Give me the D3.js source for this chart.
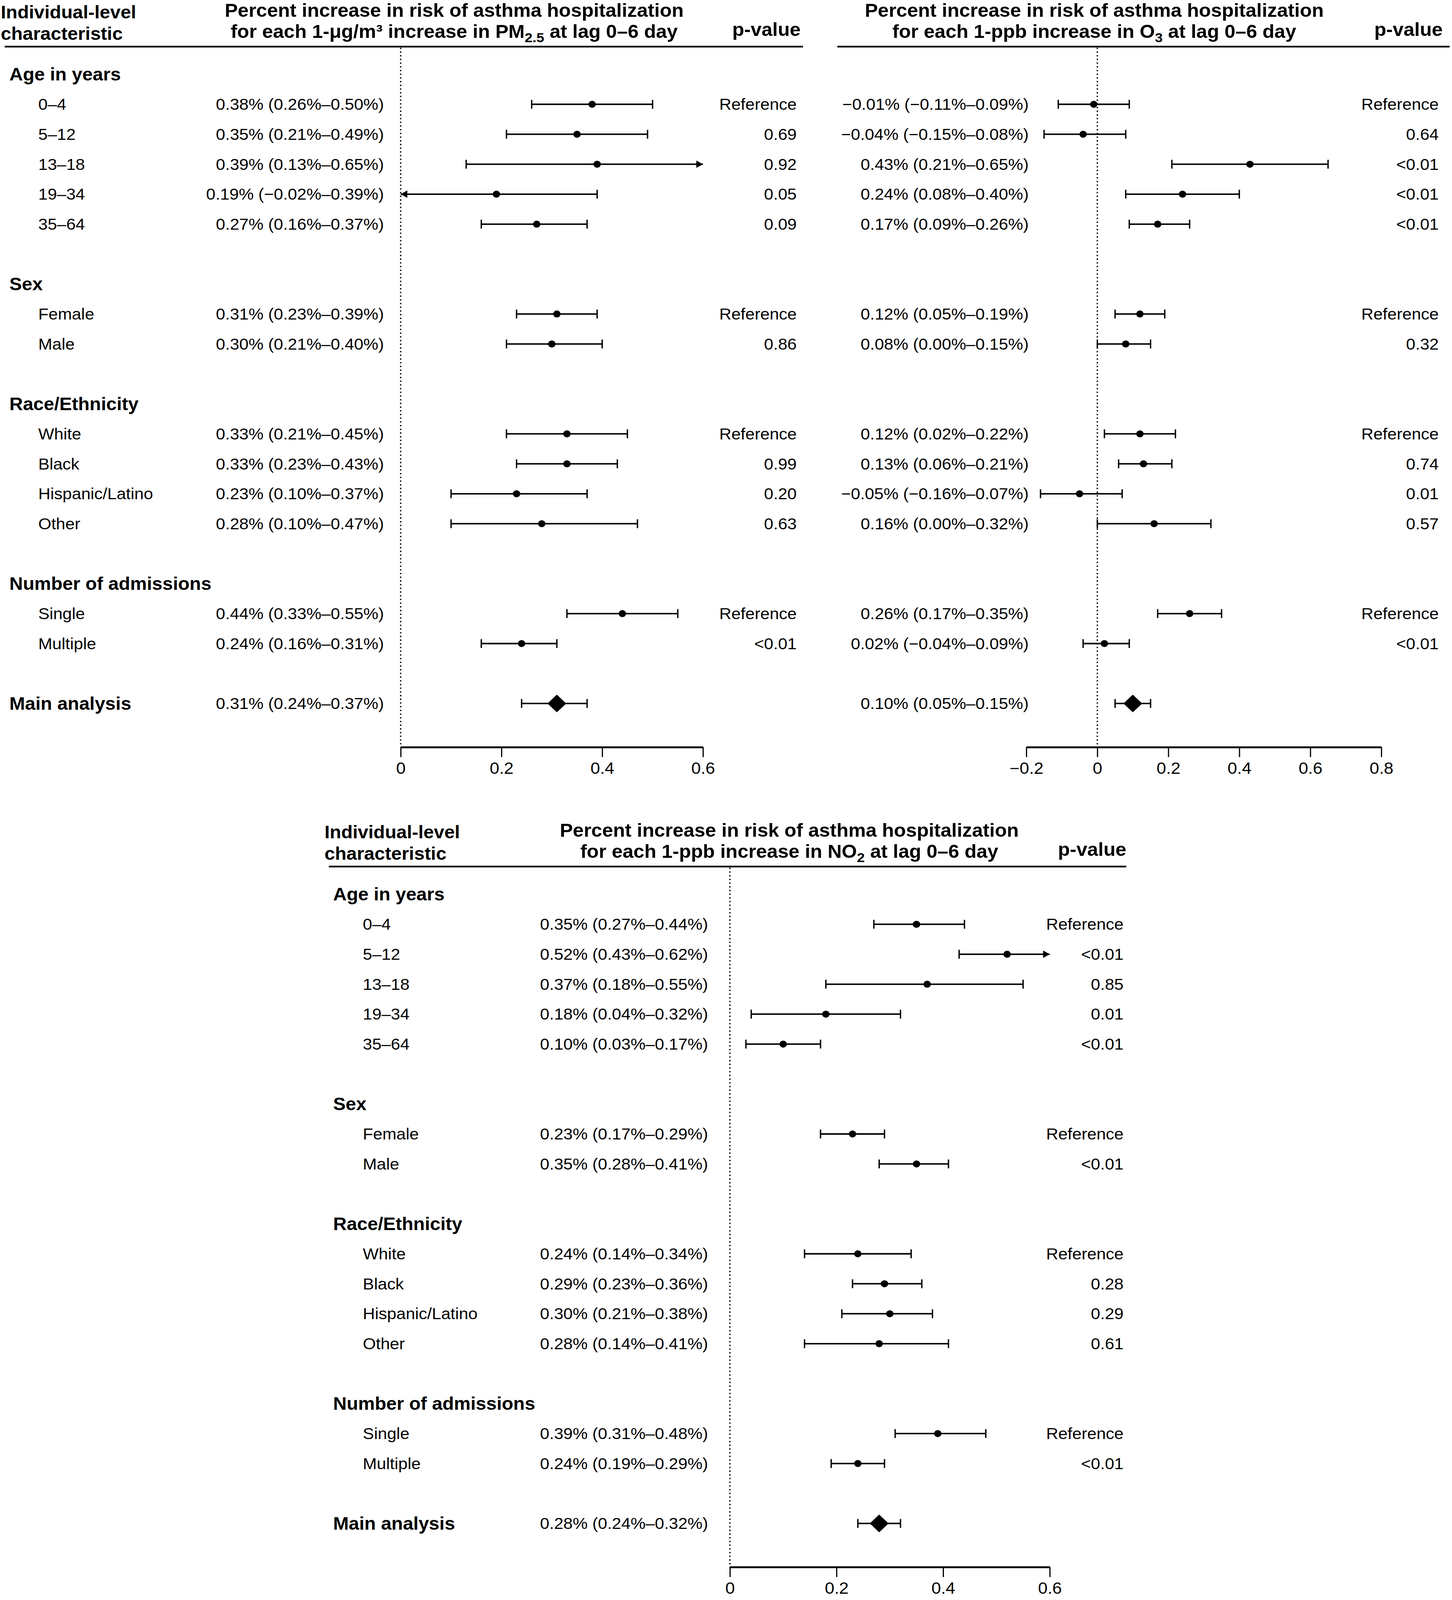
<!DOCTYPE html>
<html>
<head>
<meta charset="utf-8">
<script src="https://cdn.jsdelivr.net/npm/d3@7"></script>
<style>
  html, body { margin: 0; padding: 0; background: #fff; overflow: hidden; }
  svg { display: block; }
  text { font-family: "Liberation Sans", Arial, Helvetica, sans-serif; fill: #000; }
</style>
</head>
<body>
<div class="chart"></div>
<script>
// drawing space is the reference size; it is fitted to the window below
var svgWidth = 3718;
var svgHeight = 4326;

// groups and subgroups (same rows in all three panels)
var groups = ["Age in years", "Sex", "Race/Ethnicity", "Number of admissions"];
var groupItems = [
  ["0–4", "5–12", "13–18", "19–34", "35–64"],
  ["Female", "Male"],
  ["White", "Black", "Hispanic/Latino", "Other"],
  ["Single", "Multiple"]
];
var mainLabel = "Main analysis";

// PM2.5 (last value = main analysis)
var pmEst = [0.38, 0.35, 0.39, 0.19, 0.27, 0.31, 0.30, 0.33, 0.33, 0.23, 0.28, 0.44, 0.24, 0.31];
var pmLo  = [0.26, 0.21, 0.13, -0.02, 0.16, 0.23, 0.21, 0.21, 0.23, 0.10, 0.10, 0.33, 0.16, 0.24];
var pmHi  = [0.50, 0.49, 0.65, 0.39, 0.37, 0.39, 0.40, 0.45, 0.43, 0.37, 0.47, 0.55, 0.31, 0.37];
var pmP   = ["Reference", "0.69", "0.92", "0.05", "0.09", "Reference", "0.86", "Reference", "0.99", "0.20", "0.63", "Reference", "<0.01", ""];

// O3
var o3Est = [-0.01, -0.04, 0.43, 0.24, 0.17, 0.12, 0.08, 0.12, 0.13, -0.05, 0.16, 0.26, 0.02, 0.10];
var o3Lo  = [-0.11, -0.15, 0.21, 0.08, 0.09, 0.05, 0.00, 0.02, 0.06, -0.16, 0.00, 0.17, -0.04, 0.05];
var o3Hi  = [0.09, 0.08, 0.65, 0.40, 0.26, 0.19, 0.15, 0.22, 0.21, 0.07, 0.32, 0.35, 0.09, 0.15];
var o3P   = ["Reference", "0.64", "<0.01", "<0.01", "<0.01", "Reference", "0.32", "Reference", "0.74", "0.01", "0.57", "Reference", "<0.01", ""];

// NO2
var no2Est = [0.35, 0.52, 0.37, 0.18, 0.10, 0.23, 0.35, 0.24, 0.29, 0.30, 0.28, 0.39, 0.24, 0.28];
var no2Lo  = [0.27, 0.43, 0.18, 0.04, 0.03, 0.17, 0.28, 0.14, 0.23, 0.21, 0.14, 0.31, 0.19, 0.24];
var no2Hi  = [0.44, 0.62, 0.55, 0.32, 0.17, 0.29, 0.41, 0.34, 0.36, 0.38, 0.41, 0.48, 0.29, 0.32];
var no2P   = ["Reference", "<0.01", "0.85", "0.01", "<0.01", "Reference", "<0.01", "Reference", "0.28", "0.29", "0.61", "Reference", "<0.01", ""];

var tickTop1 = [0, 0.2, 0.4, 0.6];
var tickTop2 = [-0.2, 0, 0.2, 0.4, 0.6, 0.8];
var tickBot = [0, 0.2, 0.4, 0.6];

// the visible window can be shorter than asked for, so fit the whole figure into it
var winW = window.innerWidth || svgWidth;
var winH = window.innerHeight || svgHeight;

var svg = d3.select(".chart")
  .append("svg")
  .attr("width", winW)
  .attr("height", winH)
  .attr("viewBox", "0 0 " + svgWidth + " " + svgHeight)
  .attr("preserveAspectRatio", "none");

svg.append("rect").attr("width", svgWidth).attr("height", svgHeight).attr("fill", "#fff");

// build row list: heading, items, blank ... then main
var rows = [];
var k = 0;
groups.forEach(function(g, gi) {
  rows.push({type: "head", label: g});
  groupItems[gi].forEach(function(it) {
    rows.push({type: "item", label: it, i: k});
    k++;
  });
  rows.push({type: "blank"});
});
rows.push({type: "main", label: mainLabel, i: k});

var fmt = d3.format(".2f");
function ciText(e, l, h) {
  return fmt(e) + "% (" + fmt(l) + "%–" + fmt(h) + "%)";
}

function drawPanel(o) {
  var g = svg.append("g");
  var y = d3.scaleLinear().domain([0, rows.length - 1]).range([o.yTop, o.yMain]);
  var x = o.x;
  var dom = x.domain();

  // header line
  g.append("line")
    .attr("x1", o.lineX[0]).attr("x2", o.lineX[1])
    .attr("y1", o.headerY).attr("y2", o.headerY)
    .attr("stroke", "#000").attr("stroke-width", 4.5);

  // title
  g.append("text").attr("x", o.titleX).attr("y", o.headerY - 81)
    .attr("text-anchor", "middle").attr("font-size", 50).attr("font-weight", "bold")
    .text("Percent increase in risk of asthma hospitalization");
  var t2 = g.append("text").attr("x", o.titleX).attr("y", o.headerY - 24)
    .attr("text-anchor", "middle").attr("font-size", 50).attr("font-weight", "bold");
  t2.append("tspan").text(o.title2[0]);
  t2.append("tspan").attr("font-size", 36).attr("dy", 12).text(o.title2[1]);
  t2.append("tspan").attr("dy", -12).text(o.title2[2]);

  g.append("text").attr("x", o.pHeadX).attr("y", o.headerY - 29)
    .attr("text-anchor", "end").attr("font-size", 50).attr("font-weight", "bold")
    .text("p-value");

  if (o.labels) {
    g.append("text").attr("x", o.colHeadX).attr("y", o.headerY - 76)
      .attr("font-size", 48).attr("font-weight", "bold").text("Individual-level");
    g.append("text").attr("x", o.colHeadX).attr("y", o.headerY - 18)
      .attr("font-size", 48).attr("font-weight", "bold").text("characteristic");
  }

  // dotted zero line
  g.append("line")
    .attr("x1", x(0)).attr("x2", x(0))
    .attr("y1", o.headerY + 3).attr("y2", o.axisY)
    .attr("stroke", "#000").attr("stroke-width", 3.5)
    .attr("stroke-dasharray", "3.5,6.5");

  rows.forEach(function(r, ri) {
    var yy = y(ri);
    if (r.type === "blank") return;
    if (o.labels && r.type !== "item") {
      g.append("text").attr("x", o.headX).attr("y", yy).attr("dy", "0.35em")
        .attr("font-size", 48).attr("font-weight", "bold").text(r.label);
    }
    if (o.labels && r.type === "item") {
      g.append("text").attr("x", o.subX).attr("y", yy).attr("dy", "0.35em")
        .attr("font-size", 43).text(r.label);
    }
    if (r.type === "head") return;

    var e = o.est[r.i], lo = o.lo[r.i], hi = o.hi[r.i];
    g.append("text").attr("x", o.textEnd).attr("y", yy).attr("dy", "0.35em")
      .attr("text-anchor", "end").attr("font-size", 43).text(ciText(e, lo, hi));
    if (o.p[r.i]) {
      g.append("text").attr("x", o.pEnd).attr("y", yy).attr("dy", "0.35em")
        .attr("text-anchor", "end").attr("font-size", 43).text(o.p[r.i]);
    }

    var x1 = x(Math.max(lo, dom[0])), x2 = x(Math.min(hi, dom[1]));
    g.append("line").attr("x1", x1).attr("x2", x2).attr("y1", yy).attr("y2", yy)
      .attr("stroke", "#000").attr("stroke-width", 4);
    // left end: cap, or arrow when the interval runs off the axis
    if (lo < dom[0]) {
      g.append("path").attr("d", "M" + x1 + "," + yy + "l17,-10l0,20z").attr("fill", "#000");
    } else {
      g.append("line").attr("x1", x1).attr("x2", x1).attr("y1", yy - 12).attr("y2", yy + 12)
        .attr("stroke", "#000").attr("stroke-width", 3.5);
    }
    // right end
    if (hi > dom[1]) {
      g.append("path").attr("d", "M" + x2 + "," + yy + "l-17,-10l0,20z").attr("fill", "#000");
    } else {
      g.append("line").attr("x1", x2).attr("x2", x2).attr("y1", yy - 12).attr("y2", yy + 12)
        .attr("stroke", "#000").attr("stroke-width", 3.5);
    }
    if (r.type === "main") {
      var cx = x(e);
      g.append("path")
        .attr("d", "M" + (cx - 24) + "," + yy + "L" + cx + "," + (yy - 24) + "L" + (cx + 24) + "," + yy + "L" + cx + "," + (yy + 24) + "Z")
        .attr("fill", "#000");
    } else {
      g.append("circle").attr("cx", x(e)).attr("cy", yy).attr("r", 9.5).attr("fill", "#000");
    }
  });

  // x axis
  var axis = d3.axisBottom(x)
    .tickValues(o.ticks)
    .tickSize(27)
    .tickSizeOuter(0)
    .tickPadding(14)
    .tickFormat(function(d) { return d === 0 ? "0" : d3.format(".1f")(d); });
  var ax = g.append("g").attr("transform", "translate(0," + o.axisY + ")").call(axis);
  ax.select(".domain").attr("stroke", "#000").attr("stroke-width", 5);
  ax.selectAll(".tick line").attr("stroke", "#000").attr("stroke-width", 3);
  ax.selectAll(".tick text").attr("font-size", 44)
    .attr("font-family", "Liberation Sans, Arial, Helvetica, sans-serif").attr("fill", "#000");
}

drawPanel({
  x: d3.scaleLinear().domain([0, 0.6]).range([1026, 1800]),
  ticks: tickTop1,
  est: pmEst, lo: pmLo, hi: pmHi, p: pmP,
  labels: true,
  colHeadX: 2, headX: 24, subX: 98,
  headerY: 126, yTop: 201, yMain: 1902, axisY: 2020,
  lineX: [12, 2056],
  titleX: 1163, title2: ["for each 1-μg/m³ increase in PM", "2.5", " at lag 0–6 day"],
  pHeadX: 2050, textEnd: 983, pEnd: 2040
});

drawPanel({
  x: d3.scaleLinear().domain([-0.2, 0.8]).range([2628, 3537]),
  ticks: tickTop2,
  est: o3Est, lo: o3Lo, hi: o3Hi, p: o3P,
  labels: false,
  headerY: 126, yTop: 201, yMain: 1902, axisY: 2020,
  lineX: [2144, 3712],
  titleX: 2802, title2: ["for each 1-ppb increase in O", "3", " at lag 0–6 day"],
  pHeadX: 3694, textEnd: 2634, pEnd: 3684
});

drawPanel({
  x: d3.scaleLinear().domain([0, 0.6]).range([1869, 2688]),
  ticks: tickBot,
  est: no2Est, lo: no2Lo, hi: no2Hi, p: no2P,
  labels: true,
  colHeadX: 831, headX: 853, subX: 929,
  headerY: 2343, yTop: 2418, yMain: 4119, axisY: 4237,
  lineX: [842, 2884],
  titleX: 2021, title2: ["for each 1-ppb increase in NO", "2", " at lag 0–6 day"],
  pHeadX: 2884, textEnd: 1813, pEnd: 2877
});
</script>
</body>
</html>
